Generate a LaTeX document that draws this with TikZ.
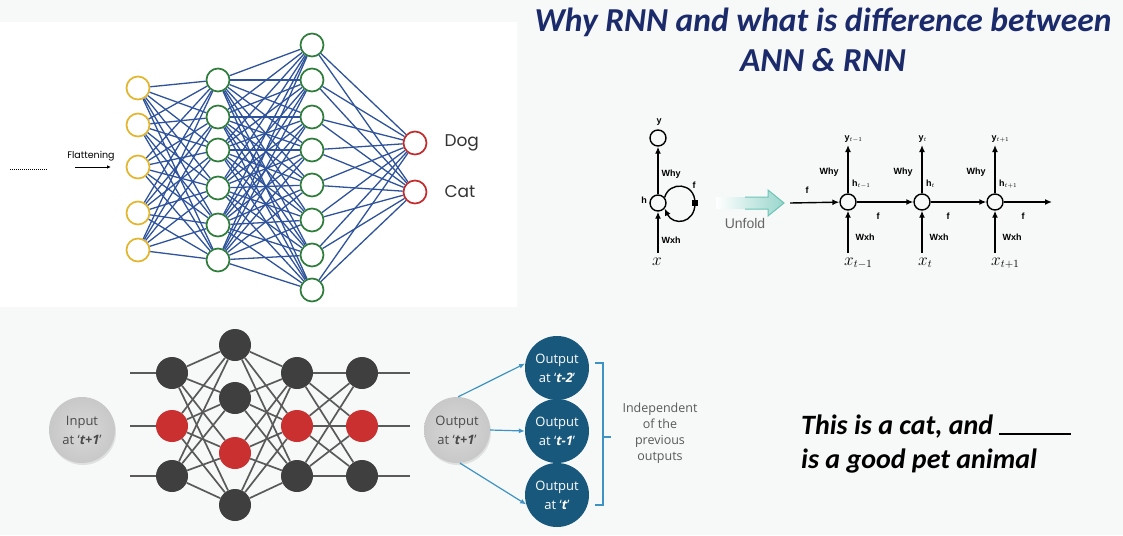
\documentclass[tikz,border=0pt]{standalone}
\usepackage{fontspec}
\setmainfont{Liberation Sans}
\newfontfamily\titlefont{Carlito}
\newfontfamily\roundfont{Poppins}
\newfontfamily\softfont{Open Sans}
\usetikzlibrary{arrows.meta,shadows}

\definecolor{pagebg}{HTML}{F7F8F8}
\definecolor{navy}{HTML}{1B2A6B}
\definecolor{wire}{HTML}{2F539B}
\definecolor{inring}{HTML}{E3B62E}
\definecolor{hidring}{HTML}{2E7D3A}
\definecolor{outring}{HTML}{C62B2B}
\definecolor{darknode}{HTML}{3F3F3F}
\definecolor{rednode}{HTML}{C9302F}
\definecolor{greywire}{HTML}{5A5A5A}
\definecolor{deepteal}{HTML}{17587C}
\definecolor{skyline}{HTML}{3D93C4}
\definecolor{unfoldc}{HTML}{6CC4B6}
\definecolor{bubblein}{HTML}{D8D8D8}
\definecolor{bubbleout}{HTML}{C8C8C8}
\definecolor{inktext}{HTML}{4A4A4A}

\begin{document}
\begin{tikzpicture}[x=1pt,y=-1pt,
  ring/.style={circle,draw,line width=1.7pt,fill=white,minimum size=23pt,inner sep=0pt},
  wireedge/.style={wire,line width=1.3pt},
  dot/.style={circle,minimum size=32pt,inner sep=0pt},
  greyedge/.style={greywire,line width=1.7pt},
  cell/.style={circle,draw,line width=1.4pt,minimum size=16pt,inner sep=0pt},
  arr/.style={line width=1.4pt,-{Latex[length=7pt,width=6pt]}},
  lbl/.style={font=\bfseries\fontsize{9}{10}\selectfont,inner sep=0pt},
  xlbl/.style={font=\fontsize{16}{18}\selectfont,inner sep=0pt},
  bubble/.style={circle,minimum size=66pt,inner sep=0pt,inner color=bubblein,outer color=bubbleout,
    drop shadow={opacity=0.2,shadow xshift=1pt,shadow yshift=-2pt},
    text=inktext,align=center,font=\softfont\fontsize{13}{19}\selectfont},
  tealball/.style={circle,minimum size=64pt,inner sep=0pt,fill=deepteal,
    text=white,align=center,font=\softfont\fontsize{13}{19}\selectfont},
  skyarrow/.style={skyline,line width=1.2pt,-{Latex[length=6pt,width=5pt]}}
]
\useasboundingbox (0,0) rectangle (1123,535);
\fill[pagebg] (0,0) rectangle (1123,535);
\fill[white] (0,22) rectangle (517,307);

% ---------- title ----------
\node[font=\titlefont\bfseries\itshape\fontsize{33.5}{40}\selectfont,text=navy,align=center]
  (title) at (823,40) {Why RNN and what is difference between\\ANN \& RNN};

% ---------- feed-forward network ----------
\draw[line width=1pt,dash pattern=on 1pt off 1pt] (10,169) -- (48,169);
\node[font=\roundfont\fontsize{9.5}{11}\selectfont] (flat) at (91,156) {Flattening};
\coordinate (fl0) at (75,167);
\coordinate (fl1) at (111,167);
\draw[line width=0.9pt,-{Latex[length=4pt,width=3.5pt]}] (fl0) -- (fl1);

\foreach \i/\y in {1/88,2/125,3/167,4/213,5/250}
  \node[ring,draw=inring] (a\i) at (138,\y) {};
\foreach \i/\y in {1/80,2/117,3/150,4/188,5/225,6/260}
  \node[ring,draw=hidring] (b\i) at (218,\y) {};
\foreach \i/\y in {1/45,2/80,3/117,4/150,5/185,6/220,7/255,8/290}
  \node[ring,draw=hidring] (c\i) at (312,\y) {};
\foreach \i/\y in {1/143,2/192}
  \node[ring,draw=outring] (d\i) at (415,\y) {};

\foreach \i in {1,...,5} \foreach \j in {1,...,6} \draw[wireedge] (a\i) -- (b\j);
\foreach \i in {1,...,6} \foreach \j in {1,...,8} \draw[wireedge] (b\i) -- (c\j);
\foreach \i in {1,...,8} \foreach \j in {1,2} \draw[wireedge] (c\i) -- (d\j);

\node[font=\roundfont\fontsize{17}{20}\selectfont,text=black!80,anchor=west] (dog) at (441,143) {Dog};
\node[font=\roundfont\fontsize{17}{20}\selectfont,text=black!80,anchor=west] (cat) at (441,192) {Cat};

% ---------- folded RNN ----------
\node[cell] (yy) at (658,138) {};
\node[cell] (hh) at (658,203) {};
\coordinate (x0) at (658,253);
\draw[arr] (hh) -- (yy);
\draw[arr] (x0) -- (hh);
\node[lbl] at (671,174) {Why};
\node[lbl] at (671,240) {Wxh};
\node[lbl] at (659,122) {y};
\node[lbl] at (644,200) {h};
\node[xlbl] at (657,262) {$x$};
\node[fill=black,minimum size=6pt,inner sep=0pt] (sq) at (695,203) {};
\draw[arr] (hh.40) .. controls (669,181) and (695,182) .. (sq.center)
  .. controls (695,224) and (673,226) .. (hh.-40);
\node[fill=black,minimum size=6pt,inner sep=0pt] at (sq) {};
\node[lbl] at (694,185) {f};

% ---------- unfold arrow ----------
\shade[left color=white,right color=unfoldc!70]
  (716,197) -- (768,197) -- (768,190) -- (784,203) -- (768,216) -- (768,209) -- (716,209) -- cycle;
\draw[unfoldc,line width=1pt] (745,197) -- (768,197) -- (768,190) -- (784,203) -- (768,216) -- (768,209) -- (745,209);
\node[font=\fontsize{14}{16}\selectfont,text=black!60] (unfold) at (745,223) {Unfold};

% ---------- unrolled RNN ----------
\foreach \k/\cx/\sub in {1/848/{t-1},2/922/t,3/995/{t+1}} {
  \node[cell] (h\k) at (\cx,202) {};
  \coordinate (top\k) at (\cx,145);
  \coordinate (bot\k) at (\cx,253);
  \draw[arr] (h\k) -- (top\k);
  \draw[arr] (bot\k) -- (h\k);
  \node[lbl] at (\cx-19,172) {Why};
  \node[lbl] at (\cx+17,237) {Wxh};
  \node[lbl,anchor=base west] at (\cx-3.5,140) {y$_{\sub}$};
  \node[lbl,anchor=base west] at (\cx+4,186) {h$_{\sub}$};
  \node[xlbl,anchor=base west] at (\cx-4,265) {$x_{\sub}$};
}
\coordinate (fin) at (790,203);
\coordinate (fout) at (1052,202);
\draw[arr] (fin) -- (h1);
\draw[arr] (h1) -- (h2);
\draw[arr] (h2) -- (h3);
\draw[arr] (h3) -- (fout);
\node[lbl] at (807,190) {f};
\node[lbl] at (878,216) {f};
\node[lbl] at (948,216) {f};
\node[lbl] at (1023,216) {f};

% ---------- network with highlighted path ----------
\node[bubble] (input) at (82,430) {Input\\at ‘\textbf{\textit{t+1}}’};

\foreach \i/\y/\c in {1/373/darknode,2/426/rednode,3/476/darknode}
  \node[dot,fill=\c] (p\i) at (172,\y) {};
\foreach \i/\y/\c in {1/345/darknode,2/398/darknode,3/453/rednode,4/505/darknode}
  \node[dot,fill=\c] (q\i) at (235,\y) {};
\foreach \i/\y/\c in {1/373/darknode,2/426/rednode,3/476/darknode}
  \node[dot,fill=\c] (r\i) at (297,\y) {};
\foreach \i/\y/\c in {1/373/darknode,2/426/rednode,3/476/darknode}
  \node[dot,fill=\c] (s\i) at (362,\y) {};

\foreach \i/\y in {1/373,2/426,3/476} {
  \coordinate (lin\i) at (130,\y);
  \coordinate (lout\i) at (410,\y);
  \draw[greyedge] (lin\i) -- (p\i);
  \draw[greyedge] (s\i) -- (lout\i);
}
\foreach \i in {1,2,3} \foreach \j in {1,...,4} \draw[greyedge] (p\i) -- (q\j);
\foreach \i in {1,...,4} \foreach \j in {1,2,3} \draw[greyedge] (q\i) -- (r\j);
\foreach \i in {1,2,3} \foreach \j in {1,2,3} \draw[greyedge] (r\i) -- (s\j);

% ---------- independent outputs ----------
\node[bubble] (outc) at (457,430) {Output\\at ‘\textbf{\textit{t+1}}’};
\node[tealball] (o1) at (557,368) {Output\\at ‘\textbf{\textit{t-2}}’};
\node[tealball] (o2) at (557,431) {Output\\at ‘\textbf{\textit{t-1}}’};
\node[tealball] (o3) at (557,495) {Output\\at ‘\textbf{\textit{t}}’};
\draw[skyarrow] (outc.88) -- (o1.172);
\draw[skyarrow] (outc.east) -- (o2.west);
\draw[skyarrow] (outc.-85) -- (o3.197);

\coordinate (bt) at (595,363);
\coordinate (bb) at (595,505);
\coordinate (bm) at (611,437);
\draw[skyline,line width=1.2pt] (bt) -- (603,363) -- (603,505) -- (bb);
\draw[skyline,line width=1.2pt] (603,437) -- (bm);
\node[font=\softfont\fontsize{12.5}{16}\selectfont,text=black!65,align=center]
  (indep) at (660,433) {Independent\\of the\\previous\\outputs};

% ---------- example sentence ----------
\node[font=\titlefont\bfseries\itshape\fontsize{28}{34}\selectfont,align=left,anchor=west,inner sep=0pt]
  (sentence) at (801,444) {This is a cat, and \rule[-1pt]{72pt}{2pt}\\is a good pet animal};
\end{tikzpicture}
\end{document}
